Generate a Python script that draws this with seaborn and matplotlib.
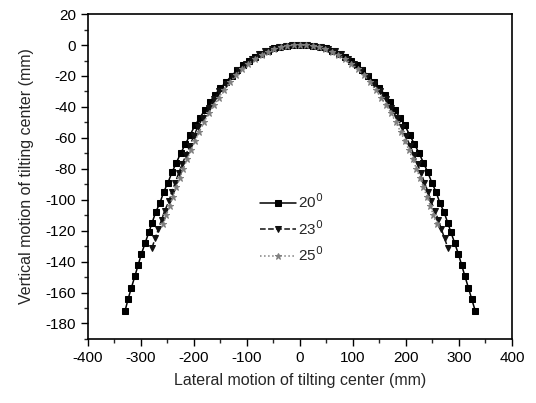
import pandas as pd
import matplotlib
matplotlib.use("Agg")
import matplotlib.pyplot as plt
import seaborn as sns
from matplotlib.ticker import MultipleLocator

# tilt angle 20 deg (outer curve)
x20 = [-330, -324, -318, -311, -305, -299, -292, -285, -279, -272, -264, -257, -249,
       -241, -233, -225, -216, -207, -198, -189, -179, -170, -160, -150, -140, -129,
       -118, -107, -96, -85, -73, -61, -49, -37, -25, -12, 0,
       12, 25, 37, 49, 61, 73, 85, 96, 107, 118, 129, 140, 150, 160, 170, 179, 189,
       198, 207, 216, 225, 233, 241, 249, 257, 264, 272, 279, 285, 292, 299, 305,
       311, 318, 324, 331]
y20 = [-172, -164, -157, -149, -142, -135, -128, -121, -115, -108, -102, -95, -89,
       -82, -76, -70, -64, -58, -52, -47, -42, -37, -32, -28, -24, -20,
       -16, -13, -10, -7.5, -5.5, -3.6, -2.2, -1.2, -0.5, -0.1, 0,
       -0.1, -0.5, -1.2, -2.2, -3.6, -5.5, -7.5, -10, -13, -16, -20, -24, -28, -32, -37, -42, -47,
       -52, -58, -64, -70, -76, -82, -89, -95, -102, -108, -115, -121, -128, -135, -142,
       -149, -157, -164, -172]

# tilt angle 23 deg
x23 = [-279, -273, -267, -261, -255, -247, -242, -235, -229, -222, -215, -208, -200,
       -193, -183, -172, -162, -152, -140, -127, -116, -102, -91, -78, -66, -53, -40,
       -27, -14, 0,
       14, 27, 40, 53, 66, 78, 91, 102, 116, 127, 140, 152, 162, 172, 183, 193, 200,
       208, 215, 222, 229, 235, 242, 247, 255, 261, 267, 273, 279]
y23 = [-131, -125, -119, -113, -107, -101, -95, -89, -83, -77, -71, -65, -59,
       -53, -47, -41, -35, -30, -25, -20, -16, -12, -9, -6, -4, -2.5, -1.3,
       -0.6, -0.15, 0,
       -0.15, -0.6, -1.3, -2.5, -4, -6, -9, -12, -16, -20, -25, -30, -35, -41, -47, -53, -59,
       -65, -71, -77, -83, -89, -95, -101, -107, -113, -119, -125, -131]

# tilt angle 25 deg
x25 = [-258, -252, -246, -240, -233, -227, -220, -213, -206, -198, -190, -181, -172,
       -163, -153, -143, -132, -121, -109, -97, -85, -72, -60, -48, -36, -24, -12, 0,
       12, 24, 36, 48, 60, 72, 85, 97, 109, 121, 132, 143, 153, 163, 172, 181, 190,
       198, 206, 213, 220, 227, 233, 240, 246, 252, 258]
y25 = [-116, -110, -104, -98, -92, -86, -80, -74, -68, -62, -56, -50, -44,
       -39, -34, -29, -24, -19.5, -15.5, -12, -9, -6.3, -4.2, -2.6, -1.4, -0.6, -0.15, 0,
       -0.15, -0.6, -1.4, -2.6, -4.2, -6.3, -9, -12, -15.5, -19.5, -24, -29, -34, -39, -44, -50, -56,
       -62, -68, -74, -80, -86, -92, -98, -104, -110, -116]

sns.set_style("ticks")
plt.rcParams["font.family"] = ["Liberation Sans", "DejaVu Sans"]
plt.rcParams["axes.unicode_minus"] = False

fig = plt.figure(figsize=(5.36, 4.03), dpi=100)
ax = fig.add_axes([0.164, 0.159, 0.791, 0.806])

series = [
    (x20, y20, "20$^0$", "#000000", "-", "s", 4),
    (x23, y23, "23$^0$", "#111111", "--", "v", 4.5),
    (x25, y25, "25$^0$", "#808080", ":", "*", 5),
]
for xs, ys, lab, col, ls, mk, ms in series:
    df = pd.DataFrame({"x": xs, "y": ys})
    sns.lineplot(data=df, x="x", y="y", ax=ax, label=lab, color=col, linestyle=ls,
                 marker=mk, markersize=ms, markeredgecolor=col, linewidth=1.1,
                 estimator=None, sort=False)

ax.set_xlim(-400, 400)
ax.set_ylim(-190, 20)
ax.xaxis.set_major_locator(MultipleLocator(100))
ax.xaxis.set_minor_locator(MultipleLocator(50))
ax.yaxis.set_major_locator(MultipleLocator(20))
ax.yaxis.set_minor_locator(MultipleLocator(10))
ax.tick_params(which="major", direction="out", length=5, width=1, labelsize=11, colors="black")
ax.tick_params(which="minor", direction="out", length=3, width=1)
for s in ax.spines.values():
    s.set_linewidth(1.2)
    s.set_color("black")

ax.set_xlabel("Lateral motion of tilting center (mm)", fontsize=11.5, labelpad=6)
ax.set_ylabel("Vertical motion of tilting center (mm)", fontsize=11.5, labelpad=8)

leg = ax.legend(loc="center", bbox_to_anchor=(0.48, 0.34), frameon=False,
                fontsize=11, handlelength=2.4, handletextpad=0.1, labelspacing=0.5)

fig.savefig("out.png", dpi=100)
